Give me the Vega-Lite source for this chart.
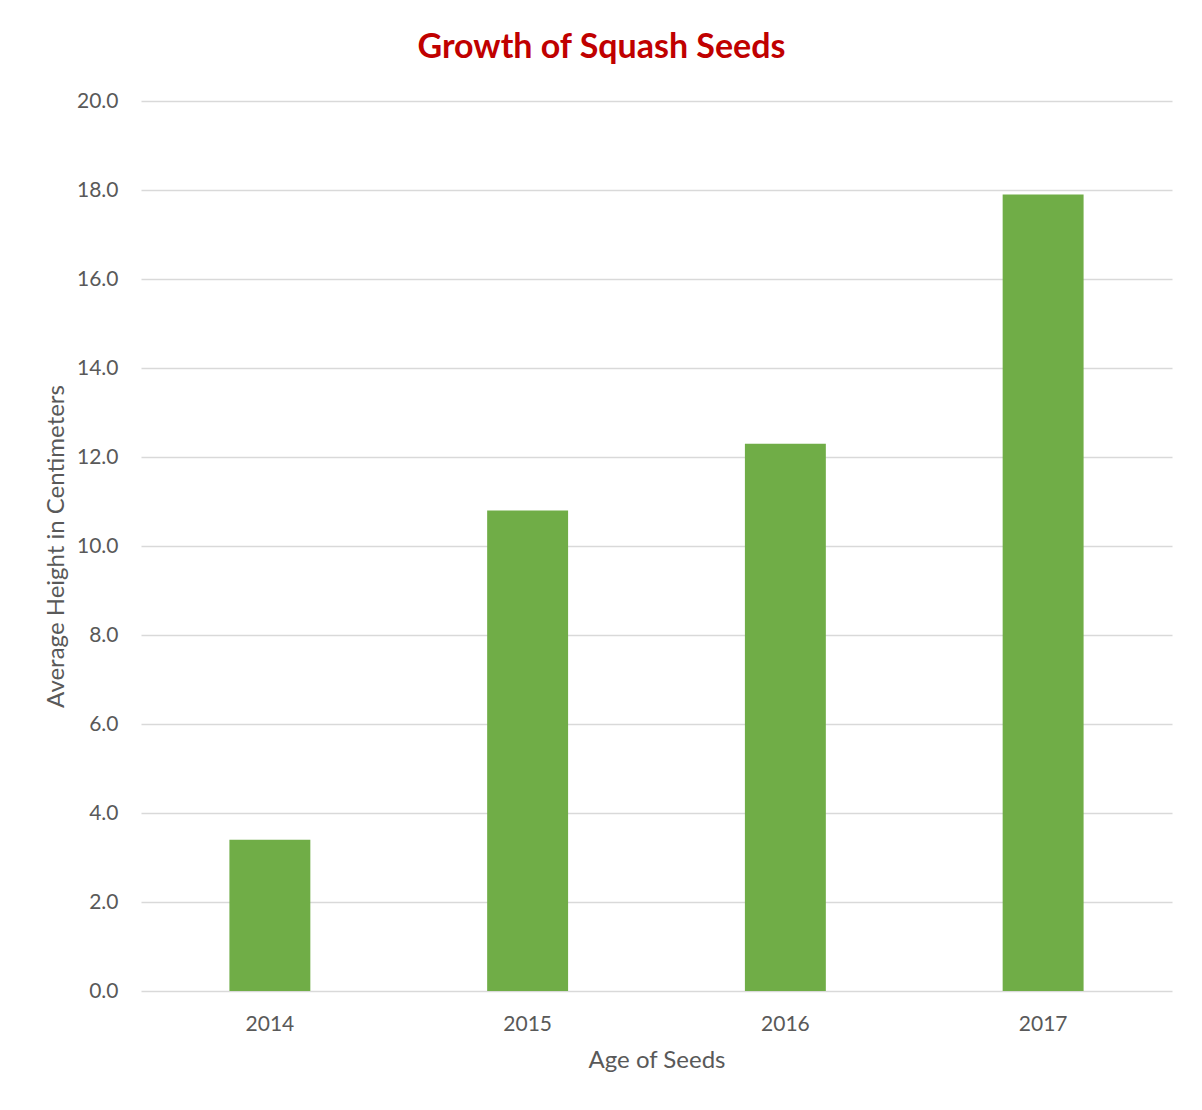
{
  "$schema": "https://vega.github.io/schema/vega-lite/v6.json",
  "autosize": {"type": "none"},
  "width": 1031,
  "height": 890,
  "padding": {"left": 141, "top": 101, "right": 30, "bottom": 119},
  "background": "white",
  "config": {
    "view": {"stroke": null},
    "font": "Lato"
  },
  "title": {
    "text": "Growth of Squash Seeds",
    "color": "#C00000",
    "font": "Lato",
    "fontSize": 34,
    "fontWeight": "bold",
    "anchor": "middle",
    "frame": "group",
    "dx": -55,
    "offset": 25
  },
  "data": {
    "values": [
      {"year": "2014", "height": 3.4},
      {"year": "2015", "height": 10.8},
      {"year": "2016", "height": 12.3},
      {"year": "2017", "height": 17.9}
    ]
  },
  "mark": {"type": "bar", "color": "#70AD47"},
  "encoding": {
    "x": {
      "field": "year",
      "type": "nominal",
      "title": "Age of Seeds",
      "scale": {"paddingInner": 0.686, "paddingOuter": 0.343},
      "axis": {
        "labelAngle": 0,
        "labelFontSize": 21,
        "labelColor": "#595959",
        "labelPadding": 22,
        "ticks": false,
        "domain": false,
        "titleFontSize": 24,
        "titleColor": "#595959",
        "titleFontWeight": "normal",
        "titlePadding": 14
      }
    },
    "y": {
      "field": "height",
      "type": "quantitative",
      "title": "Average Height in Centimeters",
      "scale": {"domain": [0, 20]},
      "axis": {
        "values": [0, 2, 4, 6, 8, 10, 12, 14, 16, 18, 20],
        "format": ".1f",
        "labelFontSize": 21,
        "labelColor": "#595959",
        "labelPadding": 23,
        "ticks": false,
        "domain": false,
        "gridColor": "#D9D9D9",
        "gridWidth": 1.5,
        "titleFontSize": 24,
        "titleColor": "#595959",
        "titleFontWeight": "normal",
        "titlePadding": 8
      }
    }
  }
}
